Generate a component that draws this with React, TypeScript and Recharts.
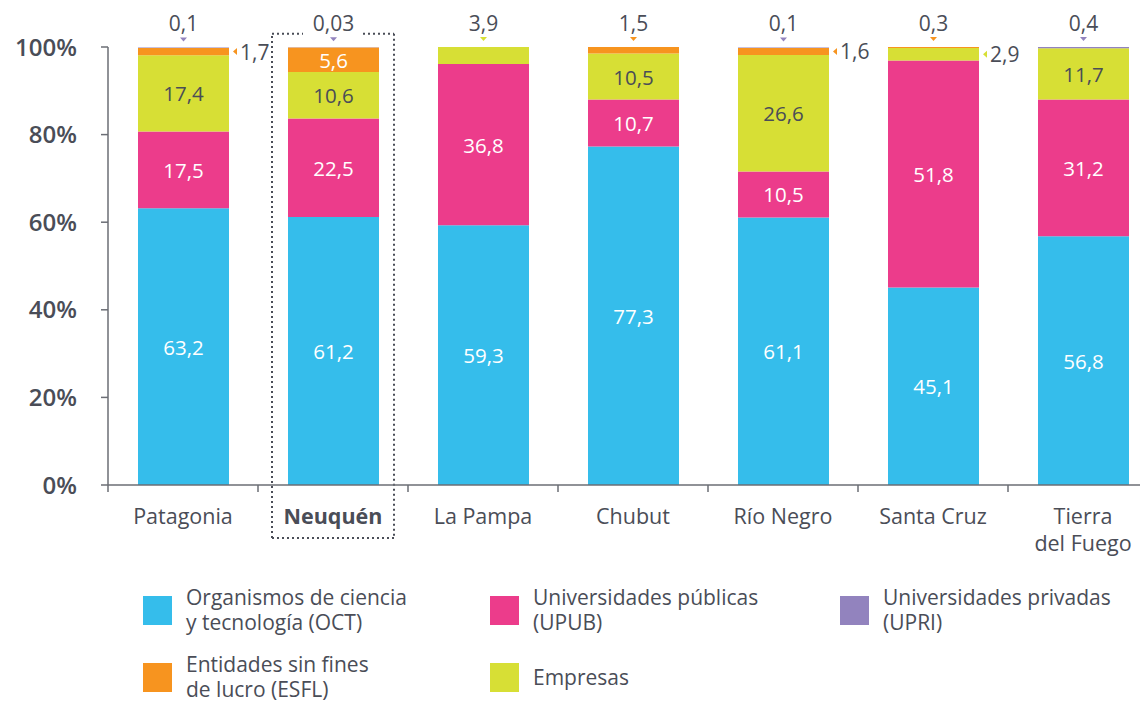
import React from 'react';
import { BarChart, Bar, XAxis, YAxis, LabelList, ReferenceArea } from 'recharts';

const regions = ['Patagonia', 'Neuquén', 'La Pampa', 'Chubut', 'Río Negro', 'Santa Cruz', 'Tierra\ndel Fuego'];
const highlighted = 'Neuquén';

// % por sector de ejecución (de abajo hacia arriba en la pila)
const oct = [63.2, 61.2, 59.3, 77.3, 61.1, 45.1, 56.8];
const upub = [17.5, 22.5, 36.8, 10.7, 10.5, 51.8, 31.2];
const empresas = [17.4, 10.6, 3.9, 10.5, 26.6, 2.9, 11.7];
const esfl = [1.7, 5.6, 0, 1.5, 1.6, 0.3, 0];
const upri = [0.1, 0.03, 0, 0, 0.1, 0, 0.4];

const yTicks = [0, 20, 40, 60, 80, 100];

const TEXT = '#4a4d57';
const AXIS = '#6b6e75';
const FONT = '"Open Sans", "Noto Sans", sans-serif';

const series = [
  { key: 'oct', values: oct, color: '#35bdeb', labelColor: '#ffffff' },
  { key: 'upub', values: upub, color: '#ec3c8b', labelColor: '#ffffff' },
  { key: 'empresas', values: empresas, color: '#d7df35', labelColor: TEXT },
  { key: 'esfl', values: esfl, color: '#f7941f', labelColor: '#ffffff' },
  { key: 'upri', values: upri, color: '#9283be', labelColor: '#ffffff' },
];

const legendItems = [
  { name: 'Organismos de ciencia\ny tecnología (OCT)', color: '#35bdeb' },
  { name: 'Universidades públicas\n(UPUB)', color: '#ec3c8b' },
  { name: 'Universidades privadas\n(UPRI)', color: '#9283be' },
  { name: 'Entidades sin fines\nde lucro (ESFL)', color: '#f7941f' },
  { name: 'Empresas', color: '#d7df35' },
];

const data = regions.map((name, i) => {
  const row: any = { name };
  series.forEach((s) => (row[s.key] = s.values[i]));
  return row;
});

const fmt = (v: number) => String(v).replace('.', ',');

// small segments are labelled outside: the topmost one above the bar, others to the right
function labelMode(s: number, i: number) {
  const v = series[s].values[i];
  if (!v) return 'none';
  if (v >= 5) return 'inside';
  let top = -1;
  series.forEach((ser, k) => {
    if (ser.values[i]) top = k;
  });
  return s === top ? 'top' : 'right';
}

const makeLabel = (s: number) => (props: any) => {
  const i = regions.indexOf(props.value);
  if (i < 0) return null;
  const vb = props.viewBox && props.viewBox.width != null ? props.viewBox : props;
  const x = Number(vb.x);
  const w = Number(vb.width);
  const y0 = Number(vb.y);
  const h0 = Number(vb.height);
  const top = Math.min(y0, y0 + h0);
  const h = Math.abs(h0);
  const mode = labelMode(s, i);
  const ser = series[s];
  const v = ser.values[i];
  const cx = x + w / 2;
  if (mode === 'inside') {
    return (
      <text x={cx} y={top + h / 2} textAnchor="middle" dominantBaseline="central" fill={ser.labelColor} fontSize={20.5} fontFamily={FONT}>
        {fmt(v)}
      </text>
    );
  }
  if (mode === 'top') {
    return (
      <g>
        <polygon points={`${cx - 3.5},${top - 10} ${cx + 3.5},${top - 10} ${cx},${top - 6}`} fill={ser.color} />
        <text x={cx} y={top - 24} textAnchor="middle" dominantBaseline="central" fill={TEXT} fontSize={21} fontFamily={FONT}>
          {fmt(v)}
        </text>
      </g>
    );
  }
  if (mode === 'right') {
    const r = x + w;
    const cy = top + h / 2;
    return (
      <g>
        <polygon points={`${r + 4},${cy} ${r + 8},${cy - 3.5} ${r + 8},${cy + 3.5}`} fill={ser.color} />
        <text x={r + 11} y={cy} textAnchor="start" dominantBaseline="central" fill={TEXT} fontSize={21} fontFamily={FONT}>
          {fmt(v)}
        </text>
      </g>
    );
  }
  return null;
};

const RegionTick = (props: any) => {
  const { x, y, payload } = props;
  const lines = String(payload.value).split('\n');
  const bold = payload.value === highlighted;
  return (
    <g>
      <line x1={x - 75} y1={y} x2={x - 75} y2={y + 7} stroke={AXIS} strokeWidth={1.5} />
      {lines.map((ln, k) => (
        <text key={k} x={x} y={y + 30 + k * 27} textAnchor="middle" dominantBaseline="central" fill={TEXT} fontSize={21.5} fontWeight={bold ? 700 : 400} fontFamily={FONT}>
          {ln}
        </text>
      ))}
    </g>
  );
};

const HighlightBox = (props: any) => {
  const { x, y, width, height } = props;
  const l = x + 14;
  const r = x + width - 14;
  const t = y;
  const b = y + height;
  const mid = (l + r) / 2;
  return (
    <g fill="none" stroke={TEXT} strokeWidth={2} strokeDasharray="2 3">
      <line x1={l} y1={t} x2={mid - 30} y2={t} />
      <line x1={mid + 30} y1={t} x2={r} y2={t} />
      <line x1={r} y1={t} x2={r} y2={b} />
      <line x1={r} y1={b} x2={l} y2={b} />
      <line x1={l} y1={b} x2={l} y2={t} />
    </g>
  );
};

export default function App() {
  return (
    <div style={{ position: 'absolute', left: 0, top: 0, width: 1140, height: 705, overflow: 'hidden', background: '#fff', fontFamily: FONT }}>
      <BarChart width={1170} height={560} data={data} margin={{ top: 47, right: 12, left: 0, bottom: 15 }}>
        <XAxis dataKey="name" interval={0} height={60} tickLine={false} tickSize={0} tickMargin={0} axisLine={{ stroke: AXIS, strokeWidth: 1.5 }} tick={<RegionTick />} />
        <YAxis
          width={108}
          domain={[0, 100]}
          ticks={yTicks}
          allowDataOverflow
          tickFormatter={(v: number) => `${v}%`}
          tickSize={7}
          tickMargin={24}
          axisLine={{ stroke: AXIS, strokeWidth: 1.5 }}
          tickLine={{ stroke: AXIS, strokeWidth: 1.5 }}
          tick={{ fill: TEXT, fontSize: 24, fontWeight: 600, fontFamily: FONT }}
        />
        <ReferenceArea x1={highlighted} x2={highlighted} y1={-12.1} y2={103} ifOverflow="visible" shape={<HighlightBox />} />
        {series.map((s, k) => (
          <Bar key={s.key} dataKey={s.key} stackId="a" fill={s.color} barSize={91} isAnimationActive={false}>
            <LabelList dataKey="name" content={makeLabel(k)} />
          </Bar>
        ))}
      </BarChart>
      <div style={{ position: 'absolute', left: 143, top: 579, display: 'grid', gridTemplateColumns: '347px 350px 300px', rowGap: 5 }}>
        {legendItems.map((it) => (
          <div key={it.name} style={{ display: 'flex', alignItems: 'center', height: 62 }}>
            <div style={{ width: 29, height: 29, background: it.color, flexShrink: 0 }} />
            <div style={{ marginLeft: 14, fontSize: 21, lineHeight: '25px', color: TEXT, whiteSpace: 'pre-line' }}>{it.name}</div>
          </div>
        ))}
      </div>
    </div>
  );
}
